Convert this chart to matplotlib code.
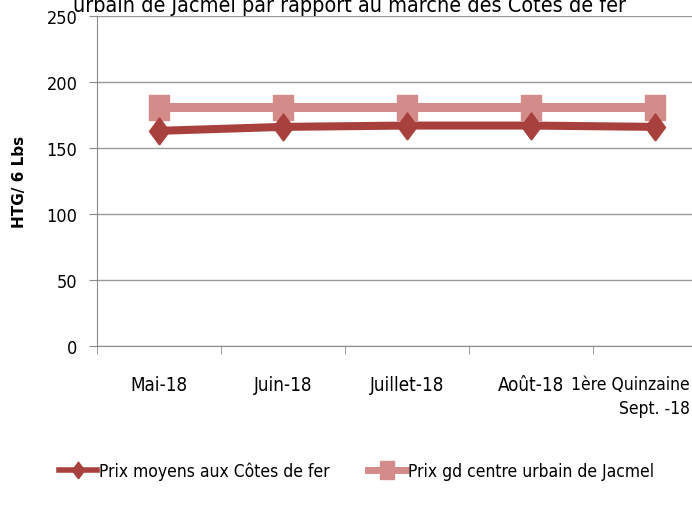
import matplotlib

matplotlib.use("Agg")
import matplotlib.pyplot as plt
from matplotlib.lines import Line2D
from matplotlib.transforms import ScaledTranslation

plt.rcParams["font.family"] = ["DejaVu Sans"]
plt.rcParams["font.stretch"] = "condensed"

# données
categories = ["Mai-18", "Juin-18", "Juillet-18", "Août-18", "1ère Quinzaine\nSept. -18"]
prix_cotes_de_fer = [163, 166, 167, 167, 166]
prix_jacmel = [181, 181, 181, 181, 181]
y_ticks = [0, 50, 100, 150, 200, 250]

red = "#A8413E"
pink = "#D38C8A"

# marqueurs étirés en hauteur (comme dans l'original)
square_tall = [(-0.8, -1), (0.8, -1), (0.8, 1), (-0.8, 1), (-0.8, -1)]
diamond_tall = [(0, -1), (0.74, 0), (0, 1), (-0.74, 0), (0, -1)]

fig = plt.figure(figsize=(6.92, 5.10), dpi=100)
ax = fig.add_axes([97 / 692, 1 - 347 / 510, 620 / 692, 330 / 510])

x = list(range(len(categories)))
ax.plot(x, prix_jacmel, color=pink, linewidth=6.5, marker=square_tall, markersize=18,
        solid_capstyle="butt", zorder=3)
ax.plot(x, prix_cotes_de_fer, color=red, linewidth=5.8, marker=diamond_tall,
        markersize=19.5, zorder=4)

ax.set_xlim(-0.5, len(categories) - 0.5)
ax.set_ylim(0, 250)
ax.set_yticks(y_ticks)
ax.yaxis.grid(True, color="#9a9a9a", linewidth=1)
ax.set_axisbelow(True)

ax.set_xticks(x)
ax.set_xticklabels(categories, fontsize=13.5, linespacing=1.45, multialignment="right")
ax.set_xticks([i - 0.5 for i in range(len(categories) + 1)], minor=True)
ax.tick_params(axis="x", which="major", length=0, pad=21)
ax.tick_params(axis="x", which="minor", length=6, color="#8a8a8a")
ax.tick_params(axis="y", length=6, color="#8a8a8a", labelsize=13, pad=8)

# la dernière étiquette déborde du cadre : on l'aligne à droite près du bord
last = ax.get_xticklabels()[-1]
last.set_horizontalalignment("right")
last.set_fontsize(12.5)
last.set_transform(last.get_transform() + ScaledTranslation(0.35, 0, fig.dpi_scale_trans))

for side in ["top", "right"]:
    ax.spines[side].set_visible(False)
ax.spines["left"].set_color("#8a8a8a")
ax.spines["bottom"].set_color("#8a8a8a")

ax.set_ylabel("HTG/ 6 Lbs", fontsize=11, fontweight="bold", fontstretch="normal",
              labelpad=14)

fig.text(0.505, 1 - 12 / 510,
         "urbain de Jacmel par rapport au marché des Côtes de fer",
         ha="center", va="baseline", fontsize=15.5)

handles = [
    Line2D([], [], color=red, linewidth=4, marker=diamond_tall, markersize=12),
    Line2D([], [], color=pink, linewidth=5, marker=square_tall, markersize=13),
]
fig.legend(handles, ["Prix moyens aux Côtes de fer", "Prix gd centre urbain de Jacmel"],
           loc="center", bbox_to_anchor=(0.515, 1 - 472 / 510), ncol=2, frameon=False,
           fontsize=12.5, handlelength=2.2, handletextpad=0.1, columnspacing=2.2)

fig.savefig("out.png", dpi=100)
